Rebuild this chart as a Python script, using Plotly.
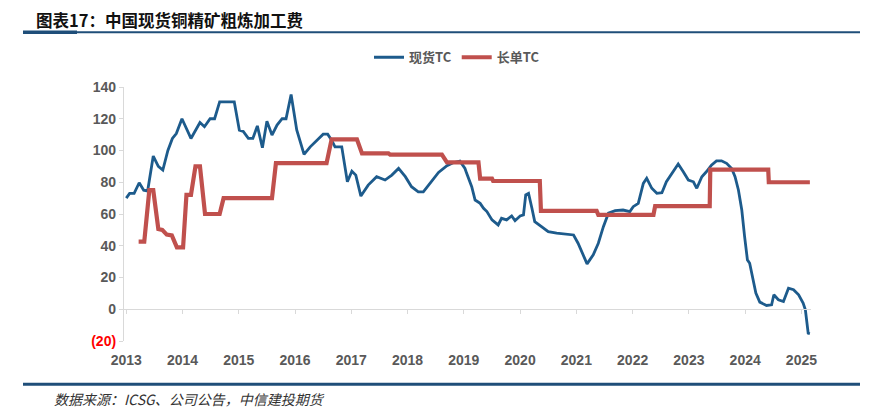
import plotly.graph_objects as go

# ---- data (decimal years) ----
spot_t = [2013.00, 2013.06, 2013.14, 2013.23, 2013.31, 2013.38, 2013.48, 2013.57, 2013.65, 2013.74,
          2013.82, 2013.89, 2013.99, 2014.15, 2014.31, 2014.39, 2014.49, 2014.57, 2014.66, 2014.92,
          2015.01, 2015.08, 2015.17, 2015.25, 2015.33, 2015.42, 2015.50, 2015.59, 2015.68, 2015.77,
          2015.84, 2015.93, 2016.03, 2016.16, 2016.27, 2016.42, 2016.50, 2016.58, 2016.65, 2016.71,
          2016.83, 2016.93, 2017.01, 2017.08, 2017.17, 2017.30, 2017.45, 2017.60, 2017.72, 2017.84,
          2017.96, 2018.07, 2018.19, 2018.28, 2018.40, 2018.55, 2018.70, 2018.81, 2018.93, 2019.02,
          2019.05, 2019.14, 2019.20, 2019.29, 2019.35, 2019.41, 2019.50, 2019.61, 2019.67, 2019.76,
          2019.85, 2019.91, 2020.00, 2020.06, 2020.10, 2020.15, 2020.21, 2020.26, 2020.38, 2020.50,
          2020.65, 2020.80, 2020.95, 2021.03, 2021.12, 2021.19, 2021.30, 2021.39, 2021.48, 2021.57,
          2021.69, 2021.83, 2021.95, 2022.01, 2022.10, 2022.19, 2022.25, 2022.34, 2022.43, 2022.52,
          2022.60, 2022.72, 2022.81, 2022.90, 2022.99, 2023.08, 2023.14, 2023.23, 2023.31, 2023.40,
          2023.49, 2023.58, 2023.67, 2023.76, 2023.82, 2023.88, 2023.94, 2023.99, 2024.04, 2024.08,
          2024.13, 2024.19, 2024.26, 2024.38, 2024.47, 2024.51, 2024.59, 2024.68, 2024.77, 2024.86,
          2024.95, 2025.03, 2025.07, 2025.12, 2025.15]
spot_tc = [70, 73, 73, 79.7, 75, 74.5, 96.5, 90, 87.7, 100,
           107.6, 110.7, 120, 107.6, 117.6, 115, 120, 120, 130.6, 130.6,
           112.8, 112, 107.6, 107.6, 115.5, 101.7, 118.5, 109.7, 116, 120,
           120, 135.3, 113, 97.5, 102.3, 107.6, 110.3, 110.3, 106.5, 102.3,
           102.3, 80.3, 87, 84.5, 71.3, 78.2, 83.5, 81.4, 84.5, 88.7,
           83.5, 77.2, 74, 74, 79.3, 86.2, 90.4, 92.3, 93.3, 88.7,
           85.6, 77.2, 68.8, 66.7, 63.6, 61.5, 56.3, 53.1, 57.3, 56.3,
           58.8, 55.8, 58.8, 59.4, 72, 73, 63.6, 55.2, 52, 48.9,
           47.9, 47.3, 46.8, 41.6, 34.3, 28.6, 34.3, 41.6, 52, 60.5,
           62.1, 62.5, 61.5, 64.6, 66.7, 79.3, 82.5, 76.2, 73, 73.4,
           80.3, 86.6, 91.5, 86.6, 81.4, 80.3, 76.2, 83.5, 86.6, 90.8,
           93.5, 93.5, 91.9, 88.7, 83.5, 75.1, 62.5, 45.8, 31.1, 29,
           20.6, 10.2, 4.5, 2.4, 2.8, 9.1, 6, 4.9, 13.3, 12.3,
           9.1, 3.9, -0.3, -15, -15.3]

long_t = [2013.22, 2013.32, 2013.41, 2013.48, 2013.57, 2013.64, 2013.72, 2013.81, 2013.90, 2014.01,
          2014.07, 2014.15, 2014.23, 2014.31, 2014.40, 2014.66, 2014.73, 2015.59, 2015.66, 2016.56,
          2016.65, 2017.10, 2017.19, 2017.66, 2017.69, 2018.61, 2018.70, 2019.26, 2019.29, 2019.50,
          2019.52, 2020.35, 2020.37, 2021.36, 2021.39, 2022.37, 2022.40, 2023.37, 2023.38, 2024.41,
          2024.42, 2025.15]
long_tc = [42.6, 42.6, 75, 75, 50.5, 50, 47, 46.5, 39, 39,
           72, 72, 90, 90, 60, 60, 70, 70, 92, 92,
           107, 107, 98.2, 98.2, 97.35, 97.35, 92.5, 92.5, 82.25, 82.25,
           80.8, 80.8, 62, 62, 59.5, 59.5, 65, 65, 88, 88,
           80, 80]

years = list(range(2013, 2026))
y_ticks = [-20, 0, 20, 40, 60, 80, 100, 120, 140]
y_labels = ["<span style='color:#FF0000'>(20)</span>", "0", "20", "40", "60", "80", "100", "120", "140"]

title_text = "图表17：中国现货铜精矿粗炼加工费"
source_text = "数据来源：ICSG、公司公告，中信建投期货"

BLUE = "#1D5B8C"
RED = "#C0504D"
GRAY = "#595959"
XR = [2012.96, 2025.17]

# page-pixel helpers (page is offset by 8px body margin)
PL, PW, PB, PH = 124, 687, 340.7, 254
def px(x):
    return (x - PL) / PW
def py(y):
    return (PB - y) / PH

fig = go.Figure()
fig.add_trace(go.Scatter(x=spot_t, y=spot_tc, mode="lines", name="<b>现货TC</b>",
                         line=dict(color=BLUE, width=2.8)))
fig.add_trace(go.Scatter(x=long_t, y=long_tc, mode="lines", name="<b>长单TC</b>",
                         line=dict(color=RED, width=4.2)))
fig.add_trace(go.Scatter(x=[XR[0]], y=[0], xaxis="x2", mode="markers",
                         marker=dict(opacity=0), showlegend=False, hoverinfo="skip"))

fig.update_layout(
    width=873, height=405,
    margin=dict(l=116, r=70, t=79, b=72),
    paper_bgcolor="white", plot_bgcolor="white",
    font=dict(family="Liberation Sans, Arial, sans-serif", color=GRAY),
    showlegend=True,
    legend=dict(orientation="h", x=px(457), xanchor="center", y=py(57), yanchor="middle",
                font=dict(family="Noto Sans CJK SC", size=13, color=GRAY),
                itemwidth=30, tracegroupgap=0, bgcolor="rgba(0,0,0,0)"),
    xaxis=dict(range=XR, tickvals=years, ticktext=[f"<b>{y}</b>" for y in years],
               showgrid=False, zeroline=False, showline=False,
               ticks="outside", ticklen=6, tickcolor="rgba(0,0,0,0)",
               tickfont=dict(size=14, color=GRAY)),
    xaxis2=dict(range=XR, overlaying="x", anchor="free", position=0.125,
                tickvals=years, showticklabels=False, showgrid=False, zeroline=False,
                showline=True, linecolor="#D9D9D9", linewidth=1.2,
                ticks="outside", ticklen=4, tickcolor="#D9D9D9"),
    yaxis=dict(range=[-20, 140], tickvals=y_ticks, ticktext=[f"<b>{t}</b>" for t in y_labels],
               showgrid=False, zeroline=False, showline=True, linecolor="#D9D9D9", linewidth=1.2,
               ticks="outside", ticklen=4, tickcolor="#D9D9D9",
               tickfont=dict(size=14, color=GRAY)),
)

fig.add_annotation(text=f"<b>{title_text}</b>", xref="paper", yref="paper",
                   x=px(35), y=py(20), xanchor="left", yanchor="middle", borderpad=0,
                   showarrow=False, font=dict(family="Noto Sans CJK SC", size=16.5, color="#111111"))
fig.add_annotation(text=f"<i>{source_text}</i>", xref="paper", yref="paper",
                   x=px(52), y=py(399), xanchor="left", yanchor="middle",
                   showarrow=False, font=dict(family="Noto Sans CJK SC", size=14, color="#333333"))
fig.add_shape(type="line", xref="paper", yref="paper",
              x0=px(23), x1=px(860), y0=py(32), y1=py(32),
              line=dict(color="#1F4E79", width=2))
fig.add_shape(type="line", xref="paper", yref="paper",
              x0=px(23), x1=px(77), y0=py(32), y1=py(32),
              line=dict(color="#1F4E79", width=3.5))
fig.add_shape(type="line", xref="paper", yref="paper",
              x0=px(23), x1=px(860), y0=py(384), y1=py(384),
              line=dict(color="#1F4E79", width=3))

fig.write_html("out.html")
